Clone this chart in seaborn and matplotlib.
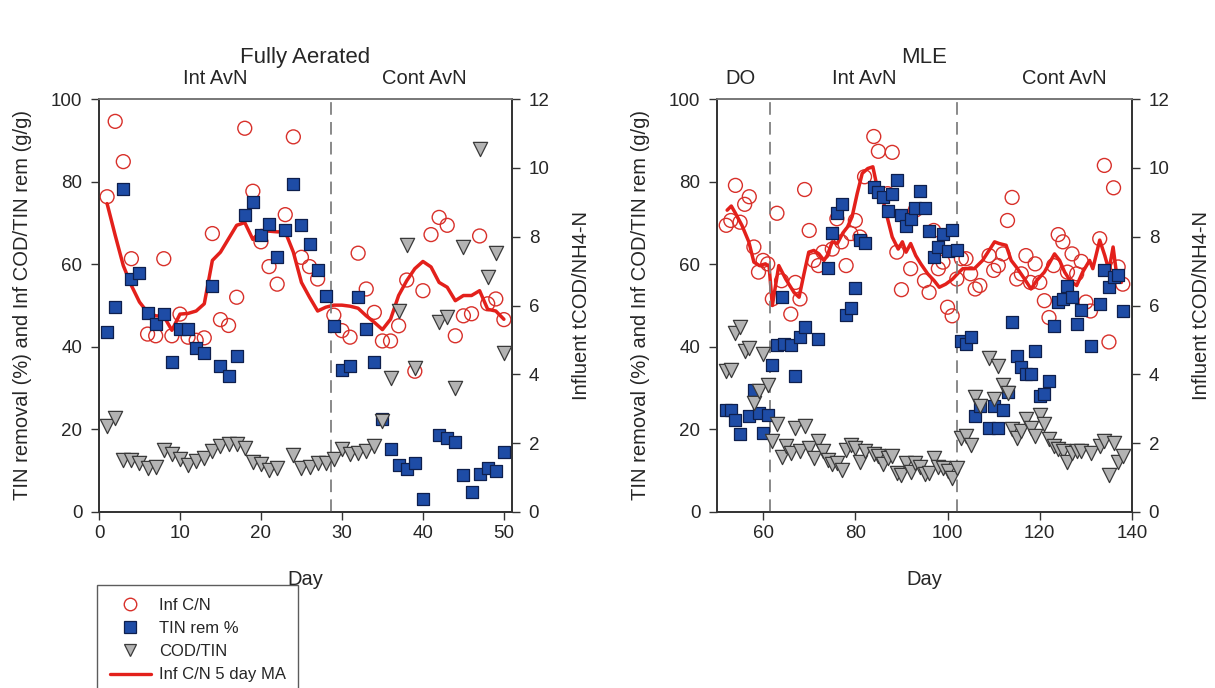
import numpy as np
import pandas as pd
import matplotlib
matplotlib.use("Agg")
import matplotlib.pyplot as plt
import matplotlib.transforms as mtransforms
from matplotlib.lines import Line2D
import seaborn as sns

# ---------------- Data: Fully Aerated ----------------
fa_cn_day = [1, 2, 3, 4, 6, 7, 8, 9, 10, 11, 12, 13, 14, 15, 16, 17, 18, 19, 20, 21, 22, 23, 24, 25,
             26, 27, 29, 30, 31, 32, 33, 34, 35, 36, 37, 38, 39, 40, 41, 42, 43, 44, 45, 46, 47, 48, 49, 50]
fa_cn = [9.16, 11.35, 10.18, 7.36, 5.17, 5.12, 7.36, 5.12, 5.75, 5.08, 4.99, 5.06, 8.09, 5.59, 5.42, 6.24,
         11.15, 9.32, 7.85, 7.13, 6.62, 8.64, 10.9, 7.40, 7.13, 6.77, 5.72, 5.27, 5.08, 7.52, 6.48, 5.80,
         4.97, 4.97, 5.41, 6.74, 4.09, 6.43, 8.06, 8.56, 8.33, 5.12, 5.70, 5.76, 8.02, 6.05, 6.19, 5.59]

fa_tin_day = [1, 2, 3, 4, 5, 6, 7, 8, 9, 10, 11, 12, 13, 14, 15, 16, 17, 18, 19, 20, 21, 22, 23, 24, 25,
              26, 27, 28, 29, 30, 31, 32, 33, 34, 35, 36, 37, 38, 39, 40, 42, 43, 44, 45, 46, 47, 48, 49, 50]
fa_tin = [43.6, 49.6, 78.1, 56.4, 57.8, 48.2, 45.5, 47.9, 36.3, 44.3, 44.3, 39.8, 38.4, 54.8, 35.4, 32.9,
          37.8, 72.0, 75.1, 67.0, 69.8, 61.7, 68.2, 79.3, 69.4, 64.8, 58.5, 52.4, 45.1, 34.5, 35.4, 52.0,
          44.3, 36.3, 22.4, 15.3, 11.3, 10.5, 11.8, 3.2, 18.7, 17.9, 17.0, 9.0, 4.8, 9.2, 10.6, 10.0, 14.5]

fa_codtin_day = [1, 2, 3, 4, 5, 6, 7, 8, 9, 10, 11, 12, 13, 14, 15, 16, 17, 18, 19, 20, 21, 22, 24, 25,
                 26, 27, 28, 29, 30, 31, 32, 33, 34, 35, 36, 37, 38, 39, 42, 43, 44, 45, 47, 48, 49, 50]
fa_codtin = [20.9, 22.8, 12.7, 12.7, 11.8, 10.6, 11.0, 15.1, 14.1, 12.8, 11.4, 12.4, 13.1, 14.7, 15.9, 16.5,
             16.5, 15.5, 12.2, 11.6, 10.2, 10.6, 13.9, 10.6, 11.0, 11.8, 11.8, 12.8, 15.3, 14.1, 14.3, 14.7,
             16.1, 22.0, 32.4, 48.6, 64.6, 34.8, 45.9, 47.1, 30.1, 64.2, 87.8, 57.0, 62.7, 38.4]

fa_ma_day = list(range(1, 51))
fa_ma = [8.96, 8.04, 7.16, 6.58, 6.10, 5.80, 5.70, 5.69, 5.28, 5.75, 5.77, 5.84, 6.05, 7.31, 7.55, 7.94,
         8.33, 8.41, 7.92, 8.18, 8.16, 8.14, 8.14, 7.55, 6.67, 6.24, 5.84, 5.95, 6.01, 6.01, 5.98, 5.92,
         5.70, 5.51, 5.30, 5.60, 6.29, 6.72, 7.07, 7.28, 7.12, 6.67, 6.53, 6.14, 6.29, 6.29, 6.43, 5.89,
         5.84, 5.60]

# ---------------- Data: MLE ----------------
mle_cn_day = [52, 53, 54, 55, 56, 57, 58, 59, 60, 61, 62, 63, 64, 66, 67, 68, 69, 70, 71, 72, 73, 75, 76,
              77, 78, 79, 80, 81, 82, 84, 85, 87, 88, 89, 90, 92, 93, 95, 96, 97, 98, 99, 100, 101, 102,
              103, 104, 105, 106, 107, 109, 110, 111, 112, 113, 114, 115, 116, 117, 118, 119, 120, 121,
              122, 123, 124, 125, 126, 127, 128, 129, 130, 131, 133, 134, 135, 136, 137, 138]
mle_cn = [8.33, 8.47, 9.49, 8.42, 8.94, 9.16, 7.70, 6.97, 7.31, 7.21, 6.19, 8.68, 6.72, 5.75, 6.67, 6.19,
          9.37, 8.18, 7.31, 7.16, 7.55, 7.64, 8.52, 7.85, 7.16, 8.09, 8.47, 7.99, 9.74, 10.91, 10.48, 9.25,
          10.45, 7.55, 6.46, 7.07, 8.77, 6.72, 6.38, 8.18, 7.07, 7.26, 5.95, 5.70, 6.77, 7.36, 7.36, 6.92,
          6.48, 6.58, 7.45, 7.02, 7.16, 7.50, 8.47, 9.14, 6.77, 6.92, 7.45, 6.67, 7.21, 6.67, 6.14, 5.65,
          7.16, 8.06, 7.85, 6.97, 7.50, 6.92, 7.28, 6.10, 5.84, 7.94, 10.07, 4.94, 9.42, 7.12, 6.62]

mle_tin_day = [52, 53, 54, 55, 57, 58, 59, 60, 61, 62, 63, 64, 64.5, 66, 67, 68, 69, 72, 74, 75, 76, 77,
               78, 79, 80, 81, 82, 84, 85, 86, 87, 88, 89, 90, 91, 92, 93, 94, 95, 96, 97, 98, 99, 100,
               101, 102, 103, 104, 105, 106, 107, 109, 110, 111, 112, 113, 114, 115, 116, 117, 118, 119,
               120, 121, 122, 123, 124, 125, 126, 127, 128, 129, 131, 133, 134, 135, 136, 137, 138]
mle_tin = [24.6, 24.6, 22.2, 18.9, 23.2, 29.6, 23.9, 19.1, 23.5, 35.7, 40.5, 52.0, 40.6, 40.4, 32.9, 42.3,
           44.7, 42.0, 59.1, 67.6, 72.3, 74.5, 47.7, 49.3, 54.2, 65.8, 65.2, 78.8, 77.5, 76.3, 72.8, 77.1,
           80.4, 72.0, 69.3, 71.0, 73.5, 77.7, 73.5, 68.0, 61.7, 64.2, 67.4, 63.1, 68.4, 63.5, 41.3, 40.6,
           42.3, 23.2, 25.6, 20.4, 25.6, 20.4, 24.6, 29.0, 45.9, 37.8, 35.0, 33.3, 33.3, 38.9, 28.1, 28.6,
           31.7, 45.1, 50.9, 51.6, 54.8, 52.1, 45.5, 49.0, 40.2, 50.4, 58.5, 54.4, 56.9, 57.3, 48.7]

mle_codtin_day = [52, 53, 54, 55, 56, 57, 58, 59, 60, 61, 62, 63, 64, 65, 66, 67, 68, 69, 70, 71, 72, 73,
                  74, 75, 76, 77, 78, 79, 80, 81, 82, 84, 85, 86, 87, 88, 89, 90, 91, 92, 93, 94, 95, 96,
                  97, 98, 99, 100, 101, 102, 103, 104, 105, 106, 107, 109, 110, 111, 112, 113, 114, 115,
                  116, 117, 118, 119, 120, 121, 122, 123, 124, 125, 126, 127, 128, 129, 131, 133, 134,
                  135, 136, 137, 138]
mle_codtin = [34.1, 34.3, 43.4, 44.9, 39.0, 39.6, 26.4, 29.2, 38.3, 30.7, 17.3, 21.3, 13.3, 15.9, 14.3,
              20.4, 14.7, 20.9, 15.5, 13.1, 17.1, 14.7, 12.7, 11.7, 11.8, 10.2, 15.1, 16.3, 15.5, 12.0,
              14.8, 14.0, 13.5, 11.6, 13.1, 13.5, 9.4, 9.0, 11.8, 9.8, 11.8, 11.0, 9.2, 9.4, 13.1, 11.0,
              10.6, 10.0, 8.2, 10.6, 17.9, 18.3, 16.3, 27.8, 25.6, 37.2, 27.3, 35.4, 30.7, 28.9, 20.0,
              17.9, 19.5, 22.6, 20.4, 18.5, 23.6, 21.2, 17.7, 15.9, 15.3, 14.7, 12.2, 14.3, 14.7, 14.7,
              14.3, 15.9, 17.1, 9.0, 16.7, 12.2, 13.6]

mle_ma_day = [52.2, 53.1, 54, 55.4, 56.9, 58, 59.2, 60.5, 61.3, 62, 63.4, 64.9, 66.7, 67.8, 68.8, 69.9,
              71, 72.1, 73.2, 73.9, 75, 76.1, 77.3, 78.3, 79.3, 80.4, 81.5, 82.7, 83.8, 84.8, 85.9, 87,
              88, 89.3, 90.2, 91, 92, 93.1, 94.2, 95.7, 97.1, 98.2, 99.6, 101.1, 102.5, 103.3, 105.8,
              107.6, 110.2, 111.2, 112.7, 113.8, 114.9, 116.7, 118.1, 119.3, 121, 123.2, 124.3, 125.4,
              126.6, 128, 129.3, 130.8, 131.5, 133, 134.1, 135, 135.9, 136.6, 137.7]
mle_ma = [8.77, 8.89, 8.68, 8.33, 7.85, 7.26, 7.16, 7.21, 7.14, 6.00, 7.16, 6.77, 6.38, 6.24, 6.88, 7.55,
          7.60, 7.50, 7.31, 7.45, 7.85, 7.80, 8.11, 8.28, 8.58, 9.25, 9.84, 9.98, 10.03, 9.40, 9.11, 8.52,
          7.99, 7.64, 7.85, 7.55, 7.80, 7.45, 7.21, 6.92, 6.72, 6.53, 6.62, 6.77, 6.97, 7.07, 7.07, 7.31,
          7.85, 7.80, 7.75, 7.31, 7.12, 6.77, 6.48, 6.72, 6.97, 7.50, 7.31, 6.97, 6.72, 6.58, 6.97, 7.31,
          7.07, 7.90, 7.45, 7.02, 7.70, 6.97, 6.67]

titles = ["Fully Aerated", "MLE"]
phase_bounds = [[28.6], [61.5, 102]]
phase_labels = [[(14.3, "Int AvN"), (40.2, "Cont AvN")],
                [(55.2, "DO"), (81.9, "Int AvN"), (125.4, "Cont AvN")]]
xlims = [(0, 51), (50, 140)]
xticks = [[0, 10, 20, 30, 40, 50], [60, 80, 100, 120, 140]]

# ---------------- Style ----------------
sns.set_theme(style="ticks")
plt.rcParams["font.family"] = ["Liberation Sans", "DejaVu Sans"]
plt.rcParams["axes.edgecolor"] = "#333333"

C_CIRCLE = "#d8302a"
C_SQUARE = "#1e4ca6"
C_SQ_EDGE = "#0e1f4d"
C_TRI = "#b3b3b3"
C_TRI_EDGE = "#3a3a3a"
C_LINE = "#e3201b"

fig = plt.figure(figsize=(12.15, 6.88), dpi=100)
positions = [[99 / 1215, 1 - 512 / 688, 413 / 1215, 413 / 688],
             [717 / 1215, 1 - 512 / 688, 415 / 1215, 413 / 688]]

panels = [
    (fa_cn_day, fa_cn, fa_tin_day, fa_tin, fa_codtin_day, fa_codtin, fa_ma_day, fa_ma),
    (mle_cn_day, mle_cn, mle_tin_day, mle_tin, mle_codtin_day, mle_codtin, mle_ma_day, mle_ma),
]

for i, (cd, cv, td, tv, kd, kv, md, mv) in enumerate(panels):
    ax = fig.add_axes(positions[i])
    ax2 = ax.twinx()
    ax.set_zorder(ax2.get_zorder() + 1)
    ax.patch.set_visible(False)

    df_c = pd.DataFrame({"day": cd, "val": cv})
    df_t = pd.DataFrame({"day": td, "val": tv})
    df_k = pd.DataFrame({"day": kd, "val": kv})
    df_m = pd.DataFrame({"day": md, "val": mv})

    sns.scatterplot(data=df_c, x="day", y="val", ax=ax2, marker="o", s=100,
                    facecolor="none", edgecolor=C_CIRCLE, linewidth=1.0, legend=False, zorder=3)
    sns.lineplot(data=df_m, x="day", y="val", ax=ax2, color=C_LINE, linewidth=2.5,
                 legend=False, zorder=4, sort=False, estimator=None)
    sns.scatterplot(data=df_t, x="day", y="val", ax=ax, marker="s", s=70,
                    color=C_SQUARE, edgecolor=C_SQ_EDGE, linewidth=0.9, legend=False, zorder=3)
    sns.scatterplot(data=df_k, x="day", y="val", ax=ax, marker="v", s=105,
                    color=C_TRI, edgecolor=C_TRI_EDGE, linewidth=0.9, legend=False, zorder=4)

    for b in phase_bounds[i]:
        ax.axvline(b, color="#808080", linestyle=(0, (7, 4)), linewidth=1.3, zorder=1)

    ax.set_xlim(*xlims[i])
    ax.set_ylim(0, 100)
    ax2.set_ylim(0, 12)
    ax.set_xticks(xticks[i])
    ax.set_yticks([0, 20, 40, 60, 80, 100])
    ax2.set_yticks([0, 2, 4, 6, 8, 10, 12])

    for a in (ax, ax2):
        a.tick_params(axis="both", labelsize=13.5, length=6, width=1, color="#333333")
        a.spines["top"].set_visible(True)
        a.spines["top"].set_color("#777777")
        a.spines["top"].set_linewidth(1.2)
    ax.tick_params(axis="y", pad=6)
    ax2.tick_params(axis="y", pad=6)

    ax.set_xlabel("Day", fontsize=14.5, labelpad=20)
    ax.set_ylabel("TIN removal (%) and Inf COD/TIN rem (g/g)", fontsize=14.5, labelpad=14)
    ax2.set_ylabel("Influent tCOD/NH4-N", fontsize=14.5, labelpad=16)

    trans = mtransforms.blended_transform_factory(ax.transData, ax.transAxes)
    for xpos, lab in phase_labels[i]:
        ax.text(xpos, 1.05, lab, transform=trans, ha="center", va="center", fontsize=14.5)
    ax.text(0.5, 1.1, titles[i], transform=ax.transAxes, ha="center", va="center", fontsize=16)

handles = [
    Line2D([], [], linestyle="none", marker="o", markersize=9, markerfacecolor="none",
           markeredgecolor=C_CIRCLE, markeredgewidth=1.0),
    Line2D([], [], linestyle="none", marker="s", markersize=8, markerfacecolor=C_SQUARE,
           markeredgecolor=C_SQ_EDGE, markeredgewidth=0.9),
    Line2D([], [], linestyle="none", marker="v", markersize=9, markerfacecolor=C_TRI,
           markeredgecolor=C_TRI_EDGE, markeredgewidth=0.9),
    Line2D([], [], color=C_LINE, linewidth=2.4),
]
labels = ["Inf C/N", "TIN rem %", "COD/TIN", "Inf C/N 5 day MA"]
leg = fig.legend(handles, labels, loc="upper left", bbox_to_anchor=(97 / 1215, 1 - 585 / 688),
                 borderaxespad=0, fontsize=12, frameon=True, fancybox=False, edgecolor="#333333",
                 handlelength=2.5, handletextpad=0.45, labelspacing=0.5, borderpad=0.75)
leg.get_frame().set_linewidth(1.0)

fig.savefig("out.png", dpi=100)
